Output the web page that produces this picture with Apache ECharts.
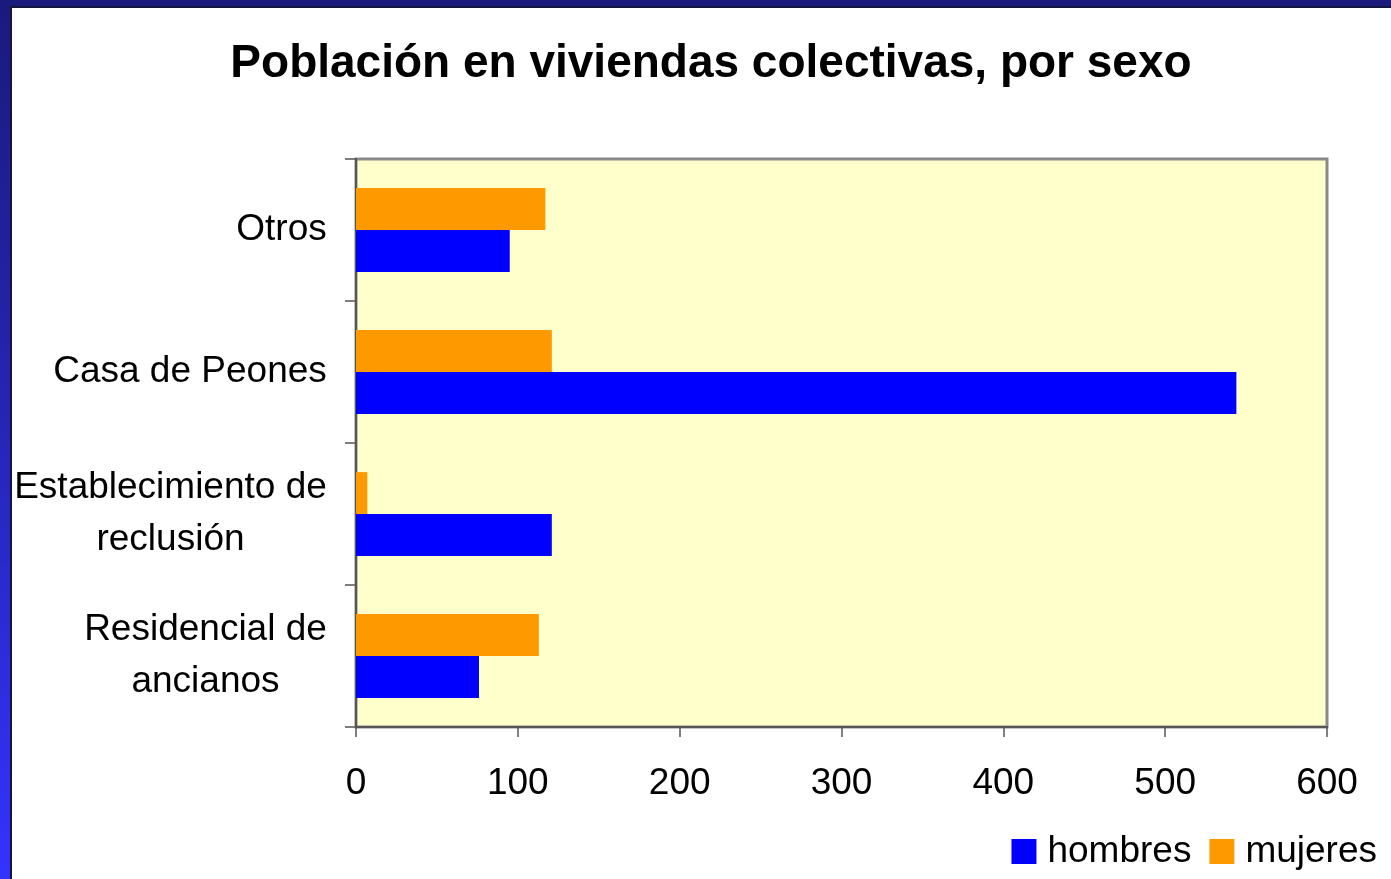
<!DOCTYPE html>
<html>
<head>
<meta charset="utf-8">
<script src="https://cdn.jsdelivr.net/npm/echarts@6/dist/echarts.min.js"></script>
<style>
html,body{margin:0;padding:0;width:1391px;height:879px;overflow:hidden;}
body{background:linear-gradient(to bottom,#1a1a7c 0%,#2626b8 50%,#3333ff 100%);position:relative;}
#frame{position:absolute;left:10px;top:6px;right:0;bottom:0;background:#fff;border-left:2px solid #14143c;border-top:2px solid #14143c;}
#chart{position:absolute;left:0;top:0;width:1391px;height:879px;}
</style>
</head>
<body>
<div id="frame"></div>
<div id="chart"></div>
<script>
const titleText = 'Población en viviendas colectivas, por sexo';
const categories = ['Residencial de\nancianos', 'Establecimiento de\nreclusión', 'Casa de Peones', 'Otros'];
const hombres = [76, 121, 544, 95];
const mujeres = [113, 7, 121, 117];
const xTicks = [0, 100, 200, 300, 400, 500, 600];

const labelFont = '37px "Liberation Sans", Arial, sans-serif';
const ctx = document.createElement('canvas').getContext('2d');
ctx.font = labelFont;
const rich = {};
categories.forEach((c, i) => {
  const w = Math.max(...c.split('\n').map(l => ctx.measureText(l).width));
  rich['l' + i] = { width: Math.ceil(w), align: 'center', fontSize: 37, lineHeight: 52,
    fontFamily: '"Liberation Sans", Arial, sans-serif', color: '#000' };
});

const chart = echarts.init(document.getElementById('chart'), null, { renderer: 'canvas' });
chart.setOption({
  backgroundColor: 'transparent',
  animation: false,
  title: {
    text: titleText,
    left: 706, top: 36, textAlign: 'center',
    textStyle: { fontFamily: '"Liberation Sans", Arial, sans-serif', fontWeight: 'bold', fontSize: 46, color: '#000' }
  },
  legend: {
    data: ['hombres', 'mujeres'],
    right: 9, top: 828,
    icon: 'rect', itemWidth: 25, itemHeight: 25, itemGap: 18,
    textStyle: { fontFamily: '"Liberation Sans", Arial, sans-serif', fontSize: 37, color: '#000', padding: [0, 0, 0, 6] }
  },
  grid: {
    left: 356, right: 64, top: 159, bottom: 152,
    show: true, backgroundColor: '#FFFFCC', borderColor: '#8a8a8a', borderWidth: 3
  },
  xAxis: {
    type: 'value', min: 0, max: 600, interval: 100,
    axisLine: { show: true, lineStyle: { color: '#555', width: 2 } },
    axisTick: { show: true, length: 10, lineStyle: { color: '#555', width: 1.5 } },
    splitLine: { show: false },
    axisLabel: {
      margin: 38, fontSize: 37, color: '#000', fontFamily: '"Liberation Sans", Arial, sans-serif',
      formatter: v => xTicks.includes(v) ? String(v) : ''
    }
  },
  yAxis: {
    type: 'category', data: categories,
    axisLine: { show: true, lineStyle: { color: '#555', width: 2 } },
    axisTick: { show: true, length: 11, lineStyle: { color: '#555', width: 1.5 } },
    axisLabel: {
      margin: 29, align: 'right', rich: rich,
      formatter: (v, i) => v.split('\n').map(l => '{l' + i + '|' + l + '}').join('\n')
    }
  },
  series: [
    { name: 'mujeres', type: 'bar', data: mujeres, itemStyle: { color: '#FF9900' }, barGap: '0%', barCategoryGap: '41%' },
    { name: 'hombres', type: 'bar', data: hombres, itemStyle: { color: '#0000FF' }, barGap: '0%', barCategoryGap: '41%' }
  ]
});
</script>
</body>
</html>
